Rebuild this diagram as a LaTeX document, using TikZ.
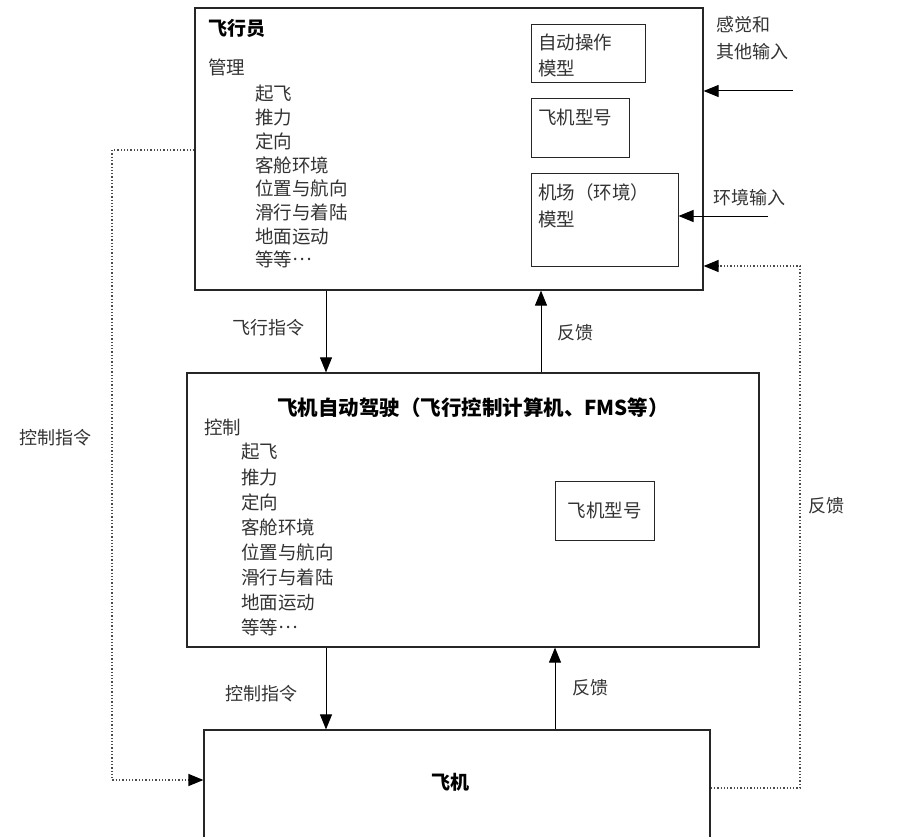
\documentclass[tikz,border=0pt]{standalone}
\usepackage{fontspec}
\setmainfont{Noto Sans CJK SC}
\usetikzlibrary{arrows.meta,calc}
\newcommand{\mydots}{\raisebox{6.5pt}{…}}
\begin{document}
\begin{tikzpicture}[x=1pt,y=-1pt,
  box/.style={draw=black!85,line width=1.2pt,inner sep=0pt},
  ibox/.style={draw=black!85,line width=1pt,inner sep=0pt},
  txt/.style={inner sep=0pt,font=\fontsize{18}{20}\selectfont,text=black!80},
  item/.style={inner sep=0pt,anchor=west,font=\fontsize{18.5}{20}\selectfont,text=black!80},
  ttl/.style={inner sep=0pt,font=\fontsize{19}{22}\selectfont\bfseries},
  arr/.style={line width=1pt,-{Triangle[length=15pt,width=12pt]}},
  dot/.style={line width=1.3pt,black!70,dotted},
  darr/.style={dot,-{Triangle[length=15pt,width=12pt,color=black]}}]
\clip (0,0) rectangle (904,837);
\fill[white] (0,0) rectangle (904,837);
% boxes
\node[box,minimum width=508,minimum height=282] (pilot) at (449,149) {};
\node[ibox,minimum width=114,minimum height=58] (auto) at (588,54) {};
\node[ibox,minimum width=98,minimum height=59] (model1) at (580,128.5) {};
\node[ibox,minimum width=147,minimum height=92] (airport) at (604.5,220) {};
\node[box,minimum width=572,minimum height=274] (mid) at (473,510) {};
\node[ibox,minimum width=99,minimum height=59] (model2) at (604.5,510.5) {};
\node[box,minimum width=506,minimum height=120] (plane) at (457,790) {};
% pilot texts
\node[ttl,anchor=west] (t1) at (208,28) {飞行员};
\node[item] (m1) at (208,67) {管理};
\foreach \t [count=\i from 0] in {起飞,推力,定向,客舱环境,位置与航向,滑行与着陆,地面运动,等等\mydots}
  \node[item] (p\i) at (255,94+23.7*\i) {\t};
\node[item] (a1) at (538,42) {自动操作};
\node[item] (a2) at (538,68) {模型};
\node[item] (b1) at (538,117) {飞机型号};
\node[item] (c1) at (538,192) {机场（环境）};
\node[item] (c2) at (538,219) {模型};
% middle texts
\node[ttl,font=\fontsize{20.5}{22}\selectfont\bfseries] (t2) at (473,408) {飞机自动驾驶（飞行控制计算机、FMS等）};
\node[item] (m2) at (204,427) {控制};
\foreach \t [count=\i from 0] in {起飞,推力,定向,客舱环境,位置与航向,滑行与着陆,地面运动,等等\mydots}
  \node[item] (q\i) at (241,452+25.1*\i) {\t};
\node[item,anchor=center] (b2) at (604.5,510.5) {飞机型号};
% plane text
\node[ttl] (t3) at (450,782) {飞机};
% labels
\node[txt,anchor=west] (s1t) at (716,25) {感觉和};
\node[txt,anchor=west] (s2t) at (716,52) {其他输入};
\node[txt,anchor=west] (e1t) at (713,198) {环境输入};
\node[txt] (l1) at (268,328) {飞行指令};
\node[txt] (l2) at (575,333) {反馈};
\node[txt] (l3) at (261,694) {控制指令};
\node[txt] (l4) at (590,688) {反馈};
\node[txt] (l5) at (55,438) {控制指令};
\node[txt] (l6) at (826,506) {反馈};
% coordinates
\coordinate (x1) at (326,0);
\coordinate (x2) at (541,0);
\coordinate (x3) at (555,0);
\coordinate (s1) at (793,91);
\coordinate (e1) at (768,216);
\coordinate (r1) at (800,788);
\coordinate (r2) at (800,266);
\coordinate (g1) at (112,150);
\coordinate (g2) at (112,780);
% arrows
\draw[arr] (pilot.south -| x1) -- (mid.north -| x1);
\draw[arr] (mid.north -| x2) -- (pilot.south -| x2);
\draw[arr] (mid.south -| x1) -- (plane.north -| x1);
\draw[arr] (plane.north -| x3) -- (mid.south -| x3);
\draw[arr] (s1) -- (s1 -| pilot.east);
\draw[arr] (e1) -- (e1 -| airport.east);
\draw[darr] (plane.east |- r1) -- (r1) -- (r2) -- (r2 -| pilot.east);
\draw[darr] (pilot.west |- g1) -- (g1) -- (g2) -- (g2 -| plane.west);
\end{tikzpicture}
\end{document}
